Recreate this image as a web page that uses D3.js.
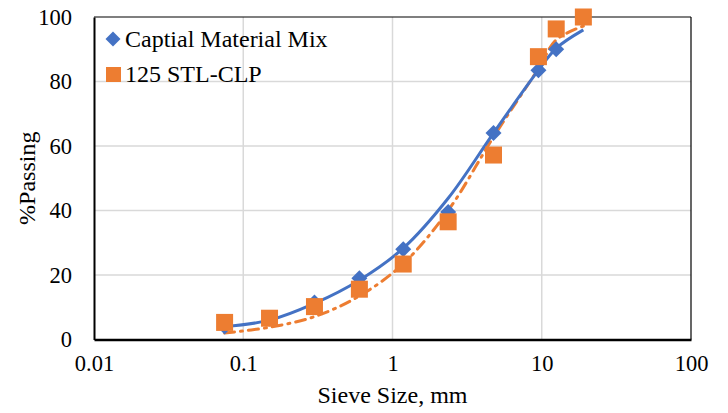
<!DOCTYPE html>
<html>
<head>
<meta charset="utf-8">
<script src="https://cdn.jsdelivr.net/npm/d3@7"></script>
<style>
  html, body { margin: 0; padding: 0; background: #fff; }
  svg { display: block; font-family: "Liberation Serif", "Times New Roman", serif; }
</style>
</head>
<body>
<svg id="chart" width="728" height="413"></svg>
<script>
// ---- data ----
const sieveSizes = [0.075, 0.15, 0.3, 0.6, 1.18, 2.36, 4.75, 9.5, 12.5, 19];
const capitalPoints = [4, 6.5, 11.5, 19, 28, 39.5, 64, 83.5, 90, 100];
const stlPoints = [5.3, 6.6, 10.2, 15.6, 23.4, 36.5, 57.2, 87.7, 96.3, 100];
const capitalCurve = [4, 6, 11.2, 18.4, 28.3, 43.8, 64, 83.5, 90.3, 96];
const stlCurve = [2, 3.8, 7.1, 13.5, 23.5, 40, 62.8, 84, 92.9, 97.2];
const xTicks = [0.01, 0.1, 1, 10, 100];
const xTickLabels = ["0.01", "0.1", "1", "10", "100"];
const yTicks = [0, 20, 40, 60, 80, 100];
const seriesNames = ["Captial Material Mix", "125 STL-CLP"];
const xTitle = "Sieve Size, mm";
const yTitle = "%Passing";

// ---- layout ----
const pLeft = 94, pRight = 691, pTop = 17, pBottom = 339.5;
const blue = "#4472C4", orange = "#ED7D31";

const svg = d3.select("#chart");
const x = d3.scaleLog().domain([0.01, 100]).range([pLeft, pRight]);
const y = d3.scaleLinear().domain([0, 100]).range([pBottom, pTop]);

// gridlines
svg.append("g").selectAll("line").data(yTicks.filter(d => d > 0 && d < 100)).join("line")
  .attr("x1", pLeft).attr("x2", pRight)
  .attr("y1", d => y(d)).attr("y2", d => y(d))
  .attr("stroke", "#d9d9d9").attr("stroke-width", 1.5);
svg.append("g").selectAll("line").data(xTicks.slice(1, -1)).join("line")
  .attr("y1", pTop).attr("y2", pBottom)
  .attr("x1", d => x(d)).attr("x2", d => x(d))
  .attr("stroke", "#d9d9d9").attr("stroke-width", 1.5);

// frame
svg.append("line").attr("x1", pLeft).attr("x2", pRight).attr("y1", pTop).attr("y2", pTop)
  .attr("stroke", "#000").attr("stroke-width", 1.2);
svg.append("line").attr("x1", pRight).attr("x2", pRight).attr("y1", pTop).attr("y2", pBottom)
  .attr("stroke", "#000").attr("stroke-width", 1.2);

// axes
const xAxis = d3.axisBottom(x).tickValues(xTicks).tickFormat((d, i) => xTickLabels[i]).tickSize(0).tickPadding(16);
const gx = svg.append("g").attr("transform", `translate(0,${pBottom})`).call(xAxis);
gx.select(".domain").attr("stroke", "#000").attr("stroke-width", 2.5);
gx.selectAll("text").attr("font-size", "22.5px").attr("fill", "#000")
  .attr("font-family", "Liberation Serif, Times New Roman, serif");

const yAxis = d3.axisLeft(y).tickValues(yTicks).tickSize(0).tickPadding(22);
const gy = svg.append("g").attr("transform", `translate(${pLeft},0)`).call(yAxis);
gy.select(".domain").attr("stroke", "#000").attr("stroke-width", 2);
gy.selectAll("text").attr("font-size", "22.5px").attr("fill", "#000")
  .attr("font-family", "Liberation Serif, Times New Roman, serif");

// axis titles
svg.append("text").attr("x", (pLeft + pRight) / 2).attr("y", 395).attr("dy", "0.35em")
  .attr("text-anchor", "middle").attr("font-size", "24px").text(xTitle);
svg.append("text").attr("transform", `translate(27,${(pTop + pBottom) / 2}) rotate(-90)`)
  .attr("dy", "0.35em").attr("text-anchor", "middle").attr("font-size", "24px").text(yTitle);

// curves
const line = d3.line().curve(d3.curveCatmullRom.alpha(0.5))
  .x(d => x(d[0])).y(d => y(d[1]));
svg.append("path").datum(sieveSizes.map((s, i) => [s, stlCurve[i]]))
  .attr("d", line).attr("fill", "none").attr("stroke", orange).attr("stroke-width", 3)
  .attr("stroke-dasharray", "10,6,2,6").attr("stroke-linecap", "round");
svg.append("path").datum(sieveSizes.map((s, i) => [s, capitalCurve[i]]))
  .attr("d", line).attr("fill", "none").attr("stroke", blue).attr("stroke-width", 3);

// markers
const diamond = (cx, cy, r) => `M${cx},${cy - r}L${cx + r},${cy}L${cx},${cy + r}L${cx - r},${cy}Z`;
svg.append("g").selectAll("path").data(sieveSizes.map((s, i) => [s, capitalPoints[i]])).join("path")
  .attr("d", d => diamond(x(d[0]), y(d[1]), 8)).attr("fill", blue);
svg.append("g").selectAll("rect").data(sieveSizes.map((s, i) => [s, stlPoints[i]])).join("rect")
  .attr("x", d => x(d[0]) - 8.5).attr("y", d => y(d[1]) - 8.5)
  .attr("width", 17).attr("height", 17).attr("fill", orange);

// legend
const lg = svg.append("g");
lg.append("path").attr("d", diamond(113, 39, 7.5)).attr("fill", blue);
lg.append("text").attr("x", 125).attr("y", 39).attr("dy", "0.35em").attr("font-size", "24px").text(seriesNames[0]);
lg.append("rect").attr("x", 106).attr("y", 67).attr("width", 15).attr("height", 15).attr("fill", orange);
lg.append("text").attr("x", 125).attr("y", 74).attr("dy", "0.35em").attr("font-size", "24px").text(seriesNames[1]);
</script>
</body>
</html>
